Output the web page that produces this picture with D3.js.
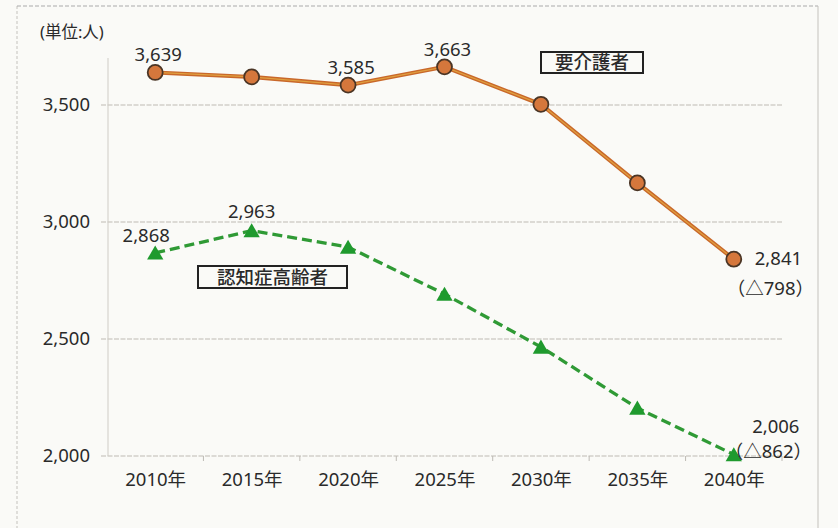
<!DOCTYPE html>
<html>
<head>
<meta charset="utf-8">
<script src="https://cdn.jsdelivr.net/npm/d3@7"></script>
<style>
  body { margin: 0; background: #fafaf7; }
  svg { display: block; }
  text { font-family: "Noto Sans", "Noto Sans CJK JP", sans-serif; fill: #2a2a2a; }
</style>
</head>
<body>
<div id="container"></div>
<script>
let years = ["2010年", "2015年", "2020年", "2025年", "2030年", "2035年", "2040年"];
let careValues = [3639, 3620, 3585, 3663, 3503, 3167, 2841];
let dementiaValues = [2868, 2963, 2893, 2692, 2466, 2205, 2006];
let yTicks = [2000, 2500, 3000, 3500];

let w = 838;
let h = 528;
let fs = 18.5;
let font = "'Noto Sans', 'Noto Sans CJK JP', sans-serif";

let viz = d3.select("#container")
  .append("svg")
    .attr("width", w)
    .attr("height", h)
;

// page frame like the scan
viz.append("rect").attr("x", 0).attr("y", 0).attr("width", w).attr("height", h).attr("fill", "#fafaf7");
viz.append("line").attr("x1", 17).attr("x2", 17).attr("y1", 6).attr("y2", h)
  .attr("stroke", "#c4c2bd").attr("stroke-dasharray", "3,2");
viz.append("line").attr("x1", 17).attr("x2", 818).attr("y1", 6).attr("y2", 6)
  .attr("stroke", "#aaa").attr("stroke-dasharray", "4,2");
viz.append("line").attr("x1", 818).attr("x2", 818).attr("y1", 6).attr("y2", h)
  .attr("stroke", "#c4c2bd");

let xScale = d3.scalePoint()
    .domain(years)
    .range([107, 782])
    .padding(0.5)
;
let yScale = d3.scaleLinear().domain([2000, 3500]).range([456, 105]);

// gridlines
let grid = viz.append("g").classed("grid", true);
grid.selectAll("line").data(yTicks).enter().append("line")
  .attr("x1", 101).attr("x2", 782)
  .attr("y1", d => yScale(d)).attr("y2", d => yScale(d))
  .attr("stroke", "#bdbab4").attr("stroke-width", 1.2).attr("stroke-dasharray", "5,1.5");
viz.append("line").attr("x1", 108).attr("x2", 108).attr("y1", 58).attr("y2", 456)
  .attr("stroke", "#cfccc6").attr("stroke-width", 1);

// y axis
let yAxis = d3.axisLeft(yScale).tickValues(yTicks).tickFormat(d3.format(",")).tickSize(0).tickPadding(0);
let yAxisGroup = viz.append("g").attr("transform", "translate(90,0)").call(yAxis);
yAxisGroup.select(".domain").remove();
yAxisGroup.selectAll("text").attr("font-size", fs).attr("fill", "#2a2a2a").style("font-family", font);

// x axis
let xAxis = d3.axisBottom(xScale).tickSize(0).tickPadding(17);
let xAxisGroup = viz.append("g").attr("transform", "translate(0,456)").call(xAxis);
xAxisGroup.select(".domain").remove();
xAxisGroup.selectAll("text").attr("font-size", fs).attr("fill", "#2a2a2a").style("font-family", font);
// small tick marks between categories
let step = xScale.step();
viz.append("g").selectAll("line").data(years).enter().append("line")
  .attr("x1", d => xScale(d) + step / 2).attr("x2", d => xScale(d) + step / 2)
  .attr("y1", 456).attr("y2", 461).attr("stroke", "#bdbab4");

// unit label
viz.append("text").attr("x", 40).attr("y", 38).attr("font-size", 16.5).text("(単位:人)");

// care series
let careLine = d3.line().x((d, i) => xScale(years[i])).y(d => yScale(d));
viz.append("path").datum(careValues).attr("d", careLine)
  .attr("fill", "none").attr("stroke", "#c9682a").attr("stroke-width", 4);
viz.append("path").datum(careValues).attr("d", careLine)
  .attr("fill", "none").attr("stroke", "#e0a040").attr("stroke-width", 1.2);
viz.append("g").selectAll("circle").data(careValues).enter().append("circle")
  .attr("cx", (d, i) => xScale(years[i])).attr("cy", d => yScale(d)).attr("r", 7.5)
  .attr("fill", "#d5773c").attr("stroke", "#4a3525").attr("stroke-width", 1.8);

// dementia series
let demLine = d3.line().x((d, i) => xScale(years[i])).y(d => yScale(d));
viz.append("path").datum(dementiaValues).attr("d", demLine)
  .attr("fill", "none").attr("stroke", "#2f9a35").attr("stroke-width", 3.3)
  .attr("stroke-dasharray", "10,5");
viz.append("g").selectAll("path.tri").data(dementiaValues).enter().append("path")
  .attr("transform", (d, i) => "translate(" + xScale(years[i]) + "," + (yScale(d) + 2) + ")")
  .attr("d", d3.symbol().type(d3.symbolTriangle).size(115))
  .attr("fill", "#1f9a2e");

// value labels
let careLabelIdx = [0, 2, 3];
viz.append("g").selectAll("text").data(careLabelIdx).enter().append("text")
  .attr("x", i => xScale(years[i]) + 3).attr("y", i => yScale(careValues[i]) - 11)
  .attr("text-anchor", "middle").attr("font-size", fs)
  .text(i => d3.format(",")(careValues[i]));
viz.append("text").attr("x", xScale(years[6]) + 21).attr("y", yScale(careValues[6]) + 6)
  .attr("font-size", fs).text(d3.format(",")(careValues[6]));
viz.append("text").attr("x", xScale(years[6]) - 7).attr("y", yScale(careValues[6]) + 36)
  .attr("font-size", fs).text("（△" + (careValues[0] - careValues[6]) + "）");

viz.append("text").attr("x", xScale(years[0]) - 9).attr("y", yScale(dementiaValues[0]) - 11)
  .attr("text-anchor", "middle").attr("font-size", fs).text(d3.format(",")(dementiaValues[0]));
viz.append("text").attr("x", xScale(years[1])).attr("y", yScale(dementiaValues[1]) - 13)
  .attr("text-anchor", "middle").attr("font-size", fs).text(d3.format(",")(dementiaValues[1]));
viz.append("text").attr("x", xScale(years[6]) + 42).attr("y", yScale(dementiaValues[6]) - 22)
  .attr("text-anchor", "middle").attr("font-size", fs).text(d3.format(",")(dementiaValues[6]));
viz.append("text").attr("x", xScale(years[6]) - 9).attr("y", yScale(dementiaValues[6]) + 3)
  .attr("font-size", fs).text("（△" + (dementiaValues[0] - dementiaValues[6]) + "）");

// series name boxes
function nameBox(x, y, bw, bh, label) {
  let g = viz.append("g");
  g.append("rect").attr("x", x).attr("y", y).attr("width", bw).attr("height", bh)
    .attr("fill", "#fafaf7").attr("stroke", "#222").attr("stroke-width", 2);
  g.append("text").attr("x", x + bw / 2).attr("y", y + bh / 2 + 6.5)
    .attr("text-anchor", "middle").attr("font-size", 18.5).attr("font-weight", 500)
    .attr("fill", "#222").text(label);
}
nameBox(541, 52, 102, 21, "要介護者");
nameBox(198, 266, 149, 22, "認知症高齢者");
</script>
</body>
</html>
